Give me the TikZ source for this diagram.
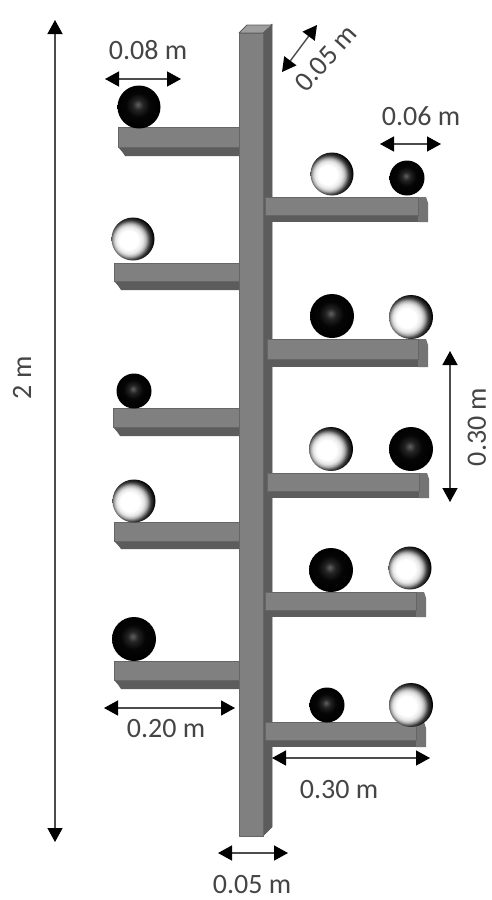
\documentclass[tikz,border=0pt]{standalone}
\usepackage{fontspec}
\setmainfont{Carlito}
\usetikzlibrary{arrows.meta}
\pgfdeclareradialshading{whiteball}{\pgfpoint{-6.5bp}{-1.5bp}}{color(0bp)=(white);color(11bp)=(white);color(16bp)=(black!10);color(19bp)=(black!30);color(23bp)=(black!78);color(27bp)=(black);color(50bp)=(black)}
\pgfdeclareradialshading{blackball}{\pgfpoint{-1.5bp}{3bp}}{color(0bp)=(black!62);color(6bp)=(black!86);color(14bp)=(black!98);color(25bp)=(black);color(50bp)=(black)}
\definecolor{polefront}{gray}{0.50}
\definecolor{poleside}{gray}{0.36}
\definecolor{poletop}{gray}{0.62}
\definecolor{dimtext}{gray}{0.27}
\tikzset{
  x=1pt,y=-1pt,
  dimarrow/.style={draw=black!70,line width=1.4pt,{Triangle[length=14pt,width=15pt,fill=black,color=black]}-{Triangle[length=14pt,width=15pt,fill=black,color=black]}},
  dimlabel/.style={text=dimtext,font=\fontsize{28}{30}\selectfont,inner sep=0pt},
  frontface/.style={fill=polefront,draw=polefront!80!black,line width=.6pt,line join=round},
  sideface/.style={fill=poleside,draw=poleside,line width=.6pt,line join=round},
  topface/.style={fill=poletop,draw=poleside,line width=.8pt,line join=round},
  whitesphere/.style={circle,minimum size=#1,inner sep=0pt,shading=whiteball},
  blacksphere/.style={circle,minimum size=#1,inner sep=0pt,shading=blackball},
}
% left shelf: x-left, y-top, y-front-bottom, y-bottom
\newcommand{\leftshelf}[4]{%
  \fill[poleside] (#1,#3-2) -- (#1+7,#4) -- (240,#4) -- (240,#3) -- cycle;
  \fill[poleside] (#1,#2) -- (#1,#3) -- (#1+8,#4) -- (#1+8,#3) -- cycle;
  \path[frontface] (#1,#2) rectangle (240,#3);
}
% right shelf: x-left, x-right, y-top, y-front-bottom, y-bottom
\newcommand{\rightshelf}[5]{%
  \fill[poleside] (#1,#4) rectangle (#2,#5);
  \fill[poleside!85!white] (#2-10,#3) -- (#2-2,#3) -- (#2,#3+6) -- (#2,#5) -- (#2-10,#5) -- cycle;
  \path[frontface] (#1,#3) rectangle (#2-10,#4);
}
\begin{document}
\begin{tikzpicture}
\useasboundingbox (0,0) rectangle (491,900);
\fill[white] (0,0) rectangle (491,900);
% left shelves
\leftshelf{118}{127}{147}{156}
\leftshelf{114}{263}{281}{290}
\leftshelf{113}{408}{427}{436}
\leftshelf{114}{522}{541}{549}
\leftshelf{114}{661}{680}{689}
% pole
\path[sideface] (262,33) -- (272,24) -- (272,827) -- (263,836) -- cycle;
\path[frontface] (239,33) rectangle (263,836);
\path[topface] (239,33) -- (247,25) -- (272,25) -- (263,33) -- cycle;
% right shelves
\rightshelf{265}{428}{197}{215}{222}
\rightshelf{267}{428}{339}{359}{367}
\rightshelf{267}{429}{473}{491}{498}
\rightshelf{265}{426}{592}{610}{617}
\rightshelf{265}{426}{722}{740}{747}
% spheres
\node[blacksphere=43pt] (b1) at (139,107) {};
\node[whitesphere=43pt] (b2) at (133,239) {};
\node[blacksphere=35pt] (b3) at (134,391) {};
\node[whitesphere=43pt] (b4) at (134,501) {};
\node[blacksphere=44pt] (b5) at (134,639) {};
\node[whitesphere=43pt] (b6) at (332,174) {};
\node[blacksphere=35pt] (b7) at (407,178) {};
\node[blacksphere=44pt] (b8) at (332,316) {};
\node[whitesphere=44pt] (b9) at (411,317) {};
\node[whitesphere=44pt] (b10) at (331,449) {};
\node[blacksphere=44pt] (b11) at (411,449) {};
\node[blacksphere=44pt] (b12) at (331,570) {};
\node[whitesphere=43pt] (b13) at (410,568) {};
\node[blacksphere=35pt] (b14) at (327,705) {};
\node[whitesphere=44pt] (b15) at (411,705) {};
% dimension ends
\coordinate (h1) at (55,20); \coordinate (h2) at (55,842);
\coordinate (a1) at (105,79); \coordinate (a2) at (181,79);
\coordinate (c1) at (282,72); \coordinate (c2) at (317,25);
\coordinate (d1) at (380,144); \coordinate (d2) at (441,144);
\coordinate (e1) at (450,351); \coordinate (e2) at (450,502);
\coordinate (f1) at (104,708); \coordinate (f2) at (235,708);
\coordinate (g1) at (272,758); \coordinate (g2) at (430,758);
\coordinate (i1) at (218,853); \coordinate (i2) at (288,853);
\draw[dimarrow] (h1) -- (h2);
\draw[dimarrow] (a1) -- (a2);
\draw[dimarrow] (c1) -- (c2);
\draw[dimarrow] (d1) -- (d2);
\draw[dimarrow] (e1) -- (e2);
\draw[dimarrow] (f1) -- (f2);
\draw[dimarrow] (g1) -- (g2);
\draw[dimarrow] (i1) -- (i2);
% labels
\node[dimlabel,rotate=90] (t1) at (22,378) {2 m};
\node[dimlabel] (t2) at (148,50) {0.08 m};
\node[dimlabel,rotate=48] (t3) at (326,58) {0.05 m};
\node[dimlabel] (t4) at (421,116) {0.06 m};
\node[dimlabel,rotate=90] (t5) at (477,427) {0.30 m};
\node[dimlabel] (t6) at (166,729) {0.20 m};
\node[dimlabel] (t7) at (339,790) {0.30 m};
\node[dimlabel] (t8) at (252,885) {0.05 m};
\end{tikzpicture}
\end{document}
